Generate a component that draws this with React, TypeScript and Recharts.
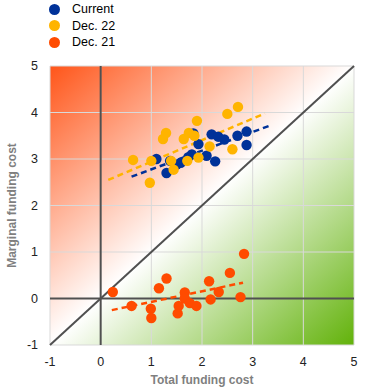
import React from 'react';
import {
  ScatterChart,
  Scatter,
  XAxis,
  YAxis,
  CartesianGrid,
  ReferenceLine,
  ReferenceArea,
} from 'recharts';

// axis ticks, both axes run -1..5
const axisTicks = [-1, 0, 1, 2, 3, 4, 5];

// [total funding cost, marginal funding cost]
const currentPoints: [number, number][] = [
  [1.1, 3.0], [1.3, 2.7], [1.37, 2.96], [1.5, 2.88], [1.58, 2.92], [1.73, 3.04],
  [1.8, 3.1], [1.83, 3.55], [1.93, 3.32], [2.09, 3.07], [2.19, 3.53], [2.26, 2.95],
  [2.32, 3.48], [2.44, 3.42], [2.7, 3.5], [2.88, 3.59], [2.88, 3.3],
];

const dec22Points: [number, number][] = [
  [0.64, 2.98], [0.97, 2.49], [1.0, 2.96], [1.23, 3.43], [1.29, 3.56], [1.39, 2.96],
  [1.44, 2.77], [1.64, 3.43], [1.71, 2.96], [1.74, 3.56], [1.85, 3.5], [1.9, 3.82],
  [1.93, 3.03], [2.15, 3.27], [2.5, 3.97], [2.6, 3.21], [2.71, 4.12],
];

const dec21Points: [number, number][] = [
  [0.24, 0.14], [0.61, -0.16], [0.99, -0.22], [1.0, -0.42], [1.15, 0.22], [1.3, 0.43],
  [1.52, -0.32], [1.54, -0.16], [1.66, 0.13], [1.66, 0.0], [1.76, -0.1], [1.89, -0.16],
  [2.14, 0.37], [2.17, -0.02], [2.33, 0.14], [2.55, 0.55], [2.76, 0.03], [2.83, 0.96],
];

// dashed trend lines, start and end
const currentTrend: [number, number][] = [[0.61, 2.62], [3.37, 3.73]];
const dec22Trend: [number, number][] = [[0.15, 2.55], [3.24, 3.98]];
const dec21Trend: [number, number][] = [[0.22, -0.25], [2.81, 0.34]];

const seriesNames = ['Current', 'Dec. 22', 'Dec. 21'];
const seriesColors = ['#003299', '#FFB400', '#FF4B00'];

const series = [
  { name: seriesNames[0], color: seriesColors[0], points: currentPoints, trend: currentTrend },
  { name: seriesNames[1], color: seriesColors[1], points: dec22Points, trend: dec22Trend },
  { name: seriesNames[2], color: seriesColors[2], points: dec21Points, trend: dec21Trend },
];

const toXY = (pts: [number, number][]) => pts.map(([x, y]) => ({ x, y }));

const Dot = (props: any) => {
  const { cx, cy, fill } = props;
  if (cx == null || cy == null) return null;
  return <circle cx={cx} cy={cy} r={5.2} fill={fill} />;
};

// two triangles either side of the 45 degree line
const Backdrop = (props: any) => {
  const { x, y, width, height } = props;
  return (
    <g>
      <defs>
        <linearGradient id="upperGrad" x1="0" y1="0" x2="0.5" y2="0.5">
          <stop offset="0%" stopColor="#FF5519" />
          <stop offset="100%" stopColor="#FFFFFF" />
        </linearGradient>
        <linearGradient id="lowerGrad" x1="0.5" y1="0.5" x2="1" y2="1">
          <stop offset="0%" stopColor="#FFFFFF" />
          <stop offset="100%" stopColor="#62B20A" />
        </linearGradient>
      </defs>
      <polygon
        points={`${x},${y + height} ${x},${y} ${x + width},${y}`}
        fill="url(#upperGrad)"
      />
      <polygon
        points={`${x},${y + height} ${x + width},${y + height} ${x + width},${y}`}
        fill="url(#lowerGrad)"
      />
    </g>
  );
};

const YTitle = (props: any) => {
  const { viewBox } = props;
  const cx = viewBox.x + 12;
  const cy = viewBox.y + viewBox.height / 2;
  return (
    <text
      x={cx}
      y={cy}
      transform={`rotate(-90 ${cx} ${cy})`}
      textAnchor="middle"
      dominantBaseline="central"
      fill="#7f7f7f"
      fontSize={12}
      fontWeight="bold"
    >
      Marginal funding cost
    </text>
  );
};

const XTitle = (props: any) => {
  const { viewBox } = props;
  const cx = viewBox.x + viewBox.width / 2;
  return (
    <text
      x={cx}
      y={viewBox.y + 39}
      textAnchor="middle"
      fill="#7f7f7f"
      fontSize={12}
      fontWeight="bold"
    >
      Total funding cost
    </text>
  );
};

const App = () => {
  return (
    <div
      style={{
        position: 'absolute',
        left: 0,
        top: 0,
        width: 372,
        height: 390,
        fontFamily: '"Liberation Sans", Arial, sans-serif',
      }}
    >
      <div style={{ position: 'absolute', left: 0, top: 0, zIndex: 2 }}>
        {series.map((s, i) => (
          <div
            key={s.name}
            style={{
              position: 'absolute',
              left: 49,
              top: 1 + i * 16.5,
              height: 16,
              display: 'flex',
              alignItems: 'center',
              whiteSpace: 'nowrap',
              fontSize: 12.5,
              color: '#000',
            }}
          >
            <span
              style={{
                width: 11,
                height: 11,
                borderRadius: '50%',
                background: s.color,
                display: 'inline-block',
              }}
            />
            <span style={{ marginLeft: 12 }}>{s.name}</span>
          </div>
        ))}
      </div>
      <ScatterChart
        width={372}
        height={390}
        margin={{ top: 66, right: 18, bottom: 15, left: 0 }}
      >
        <ReferenceArea
          x1={-1}
          x2={5}
          y1={-1}
          y2={5}
          shape={<Backdrop />}
          ifOverflow="extendDomain"
          zIndex={-200}
        />
        <CartesianGrid stroke="#d9d9d9" strokeWidth={1} fill="none" />
        <XAxis
          type="number"
          dataKey="x"
          domain={[-1, 5]}
          ticks={axisTicks}
          allowDataOverflow
          axisLine={false}
          tickLine={false}
          tickMargin={6}
          height={30}
          tick={{ fill: '#222', fontSize: 12.5 }}
          label={<XTitle />}
        />
        <YAxis
          type="number"
          dataKey="y"
          domain={[-1, 5]}
          ticks={axisTicks}
          allowDataOverflow
          axisLine={false}
          tickLine={false}
          tickMargin={6}
          width={50}
          tick={{ fill: '#222', fontSize: 12.5 }}
          label={<YTitle />}
        />
        <ReferenceLine x={0} stroke="#505050" strokeWidth={2} />
        <ReferenceLine y={0} stroke="#505050" strokeWidth={2} />
        <ReferenceLine
          segment={[{ x: -1, y: -1 }, { x: 5, y: 5 }]}
          stroke="#505050"
          strokeWidth={2}
        />
        {series.map((s) => (
          <ReferenceLine
            key={`trend-${s.name}`}
            segment={toXY(s.trend)}
            stroke={s.color}
            strokeWidth={2.5}
            strokeDasharray="6 4"
          />
        ))}
        {series.map((s) => (
          <Scatter
            key={s.name}
            name={s.name}
            data={toXY(s.points)}
            fill={s.color}
            shape={<Dot />}
            isAnimationActive={false}
          />
        ))}
      </ScatterChart>
    </div>
  );
};

export default App;
